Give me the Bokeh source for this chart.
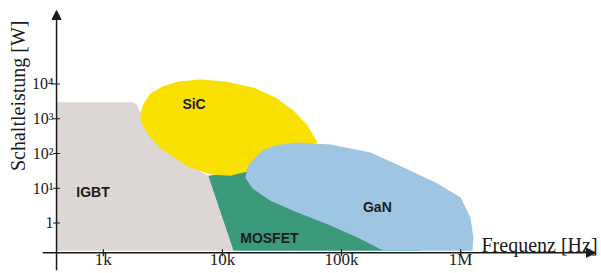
import math
from bokeh.plotting import figure
from bokeh.models import Range1d, Arrow, NormalHead, Label, Title, ColumnDataSource
from bokeh.core.properties import value
from bokeh.embed import file_html
from bokeh.resources import INLINE

# ---- data (frequency in Hz, switching power in W) ----
freq_ticks = [1000, 10000, 100000, 1000000]
freq_tick_labels = ["1k", "10k", "100k", "1M"]
power_ticks = [1, 10, 100, 1000, 10000]
power_tick_labels = ["1", "10¹", "10²", "10³", "10⁴"]

# where the two axes cross
f_origin = 405
p_origin = 0.139

igbt_f = [405, 405, 1750, 1900, 2050, 2500, 5400, 7600, 12400]
igbt_p = [0.16, 3000, 3000, 2600, 1500, 460, 45, 23, 0.16]

mosfet_f = [7600, 11700, 20900, 45300, 144000, 461000, 12400]
mosfet_p = [23, 28, 72, 45, 1.64, 0.16, 0.16]

sic_f = [2050, 2050, 2180, 2490, 3140, 4280, 6540, 10600, 18200, 27900, 39500,
         51800, 63000, 37300, 21700, 17200, 11700, 7960, 5100, 3030, 2400]
sic_p = [890, 1420, 2750, 5330, 8480, 11800, 13500, 11800, 7930, 4090, 1730,
         640, 207, 122, 63, 32, 23, 25, 42, 139, 330]

gan_f = [16300, 17900, 21700, 27900, 42700, 80900, 175000, 332000, 640000,
         1000000, 1210000, 1280000, 1260000, 225000, 136000, 80900, 42700,
         25300, 17900, 15600]
gan_p = [42, 63, 122, 170, 207, 182, 107, 39.5, 13.7, 5.4, 1.44, 0.38, 0.16,
         0.16, 0.38, 0.85, 2.0, 4.4, 9.8, 20]

region_names = ["IGBT", "SiC", "GaN", "MOSFET"]
region_label_f = [820, 5780, 200000, 24800]
region_label_p = [8.06, 2660, 2.85, 0.37]

# ---- figure ----
x_lo, x_hi = 10 ** 2.4895, 10 ** 7.183
y_lo, y_hi = 10 ** -1.367, 10 ** 6.115
x_tip = 10 ** 7.133

p = figure(width=601, height=273, x_axis_type="log", y_axis_type="log",
           x_range=Range1d(x_lo, x_hi), y_range=Range1d(y_lo, y_hi),
           output_backend="svg", toolbar_location=None, title=None,
           min_border_left=42, min_border_right=0, min_border_top=10,
           min_border_bottom=3)
p.outline_line_color = None
p.xgrid.visible = False
p.ygrid.visible = False
p.background_fill_color = "white"
p.border_fill_color = "white"

p.patch(igbt_f, igbt_p, fill_color="#dcd7d4", line_color=None)
p.patch(mosfet_f, mosfet_p, fill_color="#3b9a7b", line_color=None)
p.patch(sic_f, sic_p, fill_color="#f8e000", line_color=None)
p.patch(gan_f, gan_p, fill_color="#9ec5e2", line_color=None)

src = ColumnDataSource(dict(x=region_label_f, y=region_label_p, t=region_names))
p.text(x="x", y="y", text="t", source=src, text_font=value("Liberation Sans"),
       text_font_style="bold", text_font_size="14px", text_color="#1c1c1c",
       text_align="center", text_baseline="middle")

# axes: tick labels from Bokeh's axes, lines drawn at the crossing point
for ax in (p.xaxis[0], p.yaxis[0]):
    ax.axis_line_color = None
    ax.major_tick_line_color = None
    ax.minor_tick_line_color = None
    ax.major_tick_out = 0
    ax.major_tick_in = 0
    ax.major_label_text_font = "Liberation Serif"
    ax.major_label_text_color = "#1a1a1a"

p.xaxis.ticker = freq_ticks
p.xaxis.major_label_overrides = dict(zip(freq_ticks, freq_tick_labels))
p.xaxis.major_label_text_font_size = "17px"
p.xaxis.major_label_standoff = -21
p.yaxis.ticker = power_ticks
p.yaxis.major_label_overrides = dict(zip(power_ticks, power_tick_labels))
p.yaxis.major_label_text_font_size = "16px"
p.yaxis.major_label_standoff = -11

axis_col = "#1a1a1a"
p.add_layout(Arrow(end=NormalHead(size=9, fill_color=axis_col, line_color=axis_col),
                   x_start=x_lo, y_start=p_origin, x_end=x_tip, y_end=p_origin,
                   line_color=axis_col, line_width=1.5))
p.add_layout(Arrow(end=NormalHead(size=9, fill_color=axis_col, line_color=axis_col),
                   x_start=f_origin, y_start=y_lo, x_end=f_origin, y_end=y_hi,
                   line_color=axis_col, line_width=1.5))

# tick marks on the axis lines
p.scatter(freq_ticks, [p_origin] * len(freq_ticks), marker="dash", size=7,
          angle=math.pi / 2, line_color=axis_col, line_width=1.2)
p.scatter([f_origin] * len(power_ticks), power_ticks, marker="dash", size=7,
          line_color=axis_col, line_width=1.2)

p.add_layout(Title(text="Schaltleistung [W]", align="right", offset=10, standoff=0,
                   text_font="Liberation Serif", text_font_size="20px",
                   text_font_style="normal", text_color="#1a1a1a"), "left")
p.add_layout(Label(x=439, y=26, x_units="screen", y_units="screen",
                   text="Frequenz [Hz]", text_font="Liberation Serif",
                   text_font_size="20px", text_color="#1a1a1a",
                   text_align="left", text_baseline="alphabetic"))

open("out.html", "w").write(file_html(p, INLINE))
